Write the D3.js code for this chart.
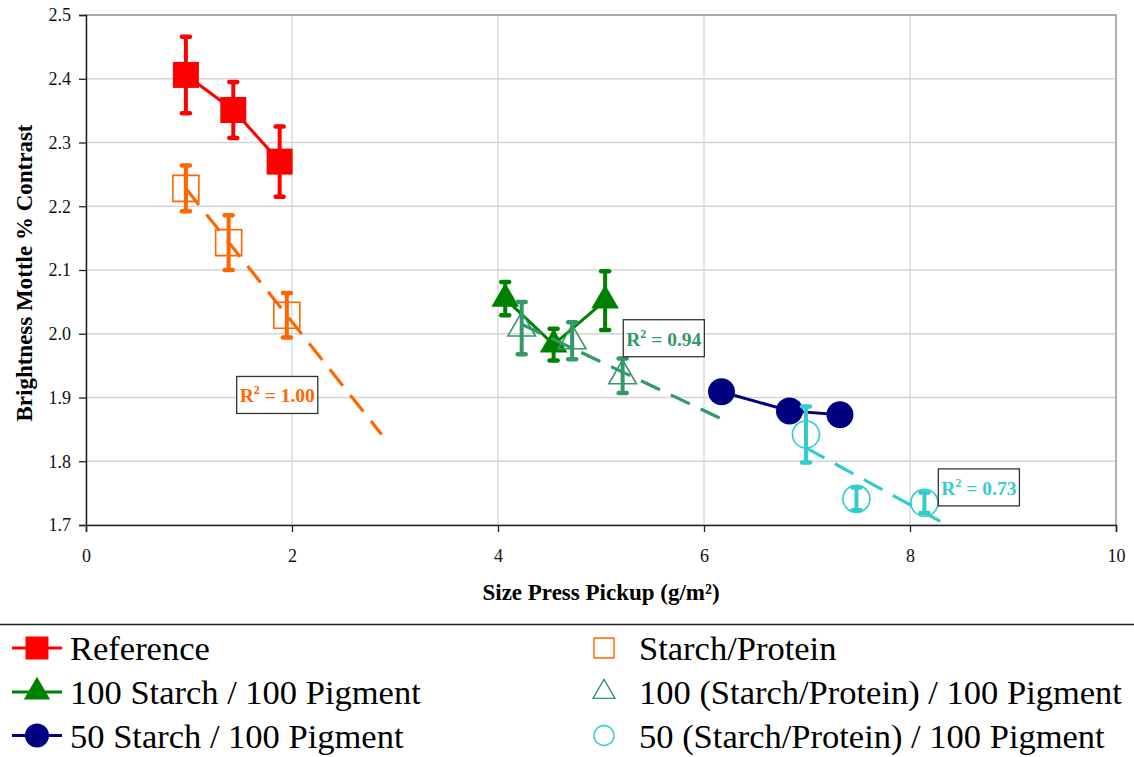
<!DOCTYPE html>
<html>
<head>
<meta charset="utf-8">
<script src="https://cdn.jsdelivr.net/npm/d3@7"></script>
<style>
  body { margin: 0; background: #fff; }
  svg text { font-family: "Liberation Serif", "Times New Roman", Times, serif !important; }
</style>
</head>
<body>
<svg id="chart" width="1134" height="757"></svg>
<script>
// data
var refX = [0.97, 1.43, 1.88];
var refY = [2.406, 2.351, 2.270];
var refErr = [0.060, 0.044, 0.055];

var spX = [0.97, 1.385, 1.95];
var spY = [2.228, 2.143, 2.029];
var spErr = [0.036, 0.043, 0.035];

var s100X = [4.07, 4.54, 5.04];
var s100Y = [2.055, 1.983, 2.052];
var s100Err = [0.026, 0.025, 0.046];

var sp100X = [4.23, 4.72, 5.21];
var sp100Y = [2.009, 1.989, 1.934];
var sp100Err = [0.041, 0.029, 0.027];

var s50X = [6.17, 6.83, 7.32];
var s50Y = [1.909, 1.879, 1.873];

var sp50X = [6.99, 7.48, 8.14];
var sp50Y = [1.842, 1.741, 1.735];
var sp50Err = [0.044, 0.018, 0.016];

var xTicks = [0, 2, 4, 6, 8, 10];
var yTicks = [1.7, 1.8, 1.9, 2.0, 2.1, 2.2, 2.3, 2.4, 2.5];

var series = [
  { name: "Reference", x: refX, y: refY, err: refErr, color: "#ff0000", shape: "square", filled: true, line: true },
  { name: "Starch/Protein", x: spX, y: spY, err: spErr, color: "#ff6600", shape: "square", filled: false, line: false, trend: { forward: 0.92, r2: "1.00" } },
  { name: "100 Starch / 100 Pigment", x: s100X, y: s100Y, err: s100Err, color: "#008000", shape: "triangle", filled: true, line: true },
  { name: "100 (Starch/Protein) / 100 Pigment", x: sp100X, y: sp100Y, err: sp100Err, color: "#339966", shape: "triangle", filled: false, line: false, trend: { forward: 0.98, r2: "0.94" } },
  { name: "50 Starch / 100 Pigment", x: s50X, y: s50Y, err: null, color: "#000080", shape: "circle", filled: true, line: true },
  { name: "50 (Starch/Protein) / 100 Pigment", x: sp50X, y: sp50Y, err: sp50Err, color: "#33cccc", shape: "circle", filled: false, line: false, trend: { forward: 0.5, r2: "0.73" } }
];

// R² label boxes (top-left corner, in data units)
var r2Pos = [null, [1.463, 1.933], null, [5.216, 2.022], null, [8.275, 1.788]];

var svg = d3.select("#chart");
var m = { left: 86, top: 15, right: 1116, bottom: 525 };

var x = d3.scaleLinear().domain([0, 10]).range([m.left, m.right]);
var y = d3.scaleLinear().domain([1.7, 2.5]).range([m.bottom, m.top]);

svg.append("defs").append("clipPath").attr("id", "plotclip")
  .append("rect").attr("x", m.left).attr("y", m.top)
  .attr("width", m.right - m.left).attr("height", m.bottom - m.top);

// gridlines
svg.append("g").selectAll("line").data(yTicks).enter().append("line")
  .attr("x1", m.left).attr("x2", m.right)
  .attr("y1", function(d) { return y(d); }).attr("y2", function(d) { return y(d); })
  .attr("stroke", "#d4d4d4").attr("stroke-width", 1.3);
svg.append("g").selectAll("line").data(xTicks).enter().append("line")
  .attr("y1", m.top).attr("y2", m.bottom)
  .attr("x1", function(d) { return x(d); }).attr("x2", function(d) { return x(d); })
  .attr("stroke", "#d4d4d4").attr("stroke-width", 1.3);

// plot border top/right
svg.append("path")
  .attr("d", "M" + m.left + "," + m.top + "H" + m.right + "V" + m.bottom)
  .attr("fill", "none").attr("stroke", "#999").attr("stroke-width", 1.3);

// axes
var xAxis = svg.append("g").attr("transform", "translate(0," + m.bottom + ")")
  .call(d3.axisBottom(x).tickValues(xTicks).tickSize(7).tickPadding(17).tickFormat(d3.format("d")));
var yAxis = svg.append("g").attr("transform", "translate(" + m.left + ",0)")
  .call(d3.axisLeft(y).tickValues(yTicks).tickSize(7).tickPadding(8).tickFormat(d3.format(".1f")));
[xAxis, yAxis].forEach(function(a) {
  a.attr("font-family", null);
  a.select(".domain").attr("stroke", "#222").attr("stroke-width", 1.5);
  a.selectAll(".tick line").attr("stroke", "#222").attr("stroke-width", 1.3);
  a.selectAll(".tick text").attr("font-size", 18).attr("fill", "#111");
});

// axis titles
svg.append("text").attr("x", 601).attr("y", 600).attr("text-anchor", "middle")
  .attr("font-size", 23).attr("font-weight", "bold").text("Size Press Pickup (g/m²)");
svg.append("text").attr("transform", "translate(32,273) rotate(-90)").attr("text-anchor", "middle")
  .attr("font-size", 23).attr("font-weight", "bold").text("Brightness Mottle % Contrast");

var symbolFor = { square: d3.symbolSquare, triangle: d3.symbolTriangle, circle: d3.symbolCircle };
var sizeFor = { square: 26 * 26, triangle: 330, circle: Math.PI * 13.5 * 13.5 };

function linreg(xs, ys) {
  var mx = d3.mean(xs), my = d3.mean(ys);
  var sxy = d3.sum(xs, function(v, i) { return (v - mx) * (ys[i] - my); });
  var sxx = d3.sum(xs, function(v) { return (v - mx) * (v - mx); });
  var slope = sxy / sxx;
  return { slope: slope, icpt: my - slope * mx };
}

var plot = svg.append("g");

series.forEach(function(s, si) {
  var pts = s.x.map(function(v, i) { return { x: v, y: s.y[i], e: s.err ? s.err[i] : 0 }; });
  var g = plot.append("g");

  if (s.line) {
    g.append("path").datum(pts)
      .attr("d", d3.line().x(function(d) { return x(d.x); }).y(function(d) { return y(d.y); }))
      .attr("fill", "none").attr("stroke", s.color).attr("stroke-width", 3);
  }

  if (s.trend) {
    var lr = linreg(s.x, s.y);
    var x0 = d3.min(s.x), x1 = d3.max(s.x) + s.trend.forward;
    g.append("line").attr("clip-path", "url(#plotclip)")
      .attr("x1", x(x0)).attr("y1", y(lr.icpt + lr.slope * x0))
      .attr("x2", x(x1)).attr("y2", y(lr.icpt + lr.slope * x1))
      .attr("stroke", s.color).attr("stroke-width", 3.2)
      .attr("stroke-dasharray", "21,12");
  }

  g.selectAll("path.mk").data(pts).enter().append("path").attr("class", "mk")
    .attr("transform", function(d) { return "translate(" + x(d.x) + "," + y(d.y) + ")"; })
    .attr("d", d3.symbol().type(symbolFor[s.shape]).size(sizeFor[s.shape]))
    .attr("fill", s.filled ? s.color : "none")
    .attr("stroke", s.color).attr("stroke-width", s.filled ? 0 : 1.6);

  if (s.err) {
    var eg = g.selectAll("g.err").data(pts).enter().append("g").attr("class", "err")
      .attr("stroke", s.color).attr("stroke-linecap", "round");
    eg.append("line")
      .attr("x1", function(d) { return x(d.x); }).attr("x2", function(d) { return x(d.x); })
      .attr("y1", function(d) { return y(d.y - d.e); }).attr("y2", function(d) { return y(d.y + d.e); })
      .attr("stroke-width", 4);
    [1, -1].forEach(function(sg) {
      eg.append("line")
        .attr("x1", function(d) { return x(d.x) - 4; }).attr("x2", function(d) { return x(d.x) + 4; })
        .attr("y1", function(d) { return y(d.y + sg * d.e); }).attr("y2", function(d) { return y(d.y + sg * d.e); })
        .attr("stroke-width", 4.5);
    });
  }

  if (s.trend) {
    var p = r2Pos[si];
    var lb = svg.append("g").attr("transform", "translate(" + x(p[0]) + "," + y(p[1]) + ")");
    var t = lb.append("text").attr("x", 3).attr("y", 26).attr("font-size", 19.5).attr("font-weight", "bold")
      .attr("fill", s.color);
    t.append("tspan").text("R");
    t.append("tspan").attr("dy", -8).attr("font-size", 12).text("2");
    t.append("tspan").attr("dy", 8).text(" = " + s.trend.r2);
    var w = t.node().getComputedTextLength() + 6;
    lb.insert("rect", "text").attr("width", w).attr("height", 37)
      .attr("fill", "#fff").attr("stroke", "#333").attr("stroke-width", 1.3);
  }
});

// legend
svg.append("line").attr("x1", 0).attr("x2", 1134).attr("y1", 624.5).attr("y2", 624.5)
  .attr("stroke", "#222").attr("stroke-width", 1.5);

var legRows = [648, 692, 735.5];
series.forEach(function(s, i) {
  var col = i % 2, row = Math.floor(i / 2);
  var lg = svg.append("g").attr("transform", "translate(0," + legRows[row] + ")");
  if (col === 0) {
    lg.append("line").attr("x1", 12).attr("x2", 62).attr("stroke", s.color).attr("stroke-width", 3);
    lg.append("path").attr("transform", "translate(37,0)")
      .attr("d", d3.symbol().type(symbolFor[s.shape]).size(s.shape === "square" ? 23 * 23 : s.shape === "triangle" ? 300 : Math.PI * 12 * 12))
      .attr("fill", s.color);
    lg.append("text").attr("x", 70).attr("y", 12).attr("font-size", 34.5).text(s.name);
  } else {
    lg.append("path").attr("transform", "translate(604,0)")
      .attr("d", d3.symbol().type(symbolFor[s.shape]).size(s.shape === "square" ? 20 * 20 : s.shape === "triangle" ? 210 : Math.PI * 10 * 10))
      .attr("fill", "none").attr("stroke", s.color).attr("stroke-width", 1.4);
    lg.append("text").attr("x", 639).attr("y", 12).attr("font-size", 34.5).text(s.name);
  }
});
</script>
</body>
</html>
